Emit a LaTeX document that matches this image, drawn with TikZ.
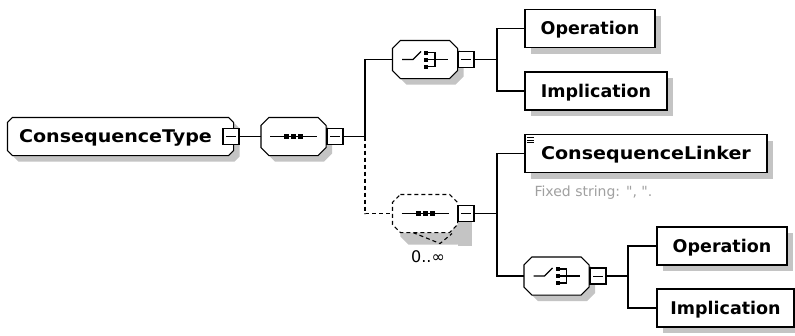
\documentclass[tikz,border=0pt]{standalone}
\usepackage{fontspec}
\usetikzlibrary{shadows}
\newfontfamily\boxfont{DejaVu Sans}
\newfontfamily\boxfontw[FakeStretch=1.09]{DejaVu Sans}
\definecolor{shadowgray}{HTML}{C4C4C4}
\definecolor{fixgray}{HTML}{A0A0A0}
% octagon round a named node: name, chamfer, x shift, y shift (down)
\newcommand{\octpath}[4]{([xshift=#2+#3,yshift=-#4]#1.north west) -- ([xshift=-#2+#3,yshift=-#4]#1.north east) -- ([xshift=#3,yshift=-#2-#4]#1.north east) -- ([xshift=#3,yshift=#2-#4]#1.south east) -- ([xshift=-#2+#3,yshift=-#4]#1.south east) -- ([xshift=#2+#3,yshift=-#4]#1.south west) -- ([xshift=#3,yshift=#2-#4]#1.south west) -- ([xshift=#3,yshift=-#2-#4]#1.north west) -- cycle}
\tikzset{
  every path/.style={line width=1.1pt},
  shad/.style={drop shadow={shadow xshift=6pt, shadow yshift=-6pt, fill=shadowgray, opacity=1}},
  namefont/.style={font=\boxfont\bfseries\fontsize{17.5}{20}\selectfont},
  widefont/.style={font=\boxfontw\bfseries\fontsize{17.5}{20}\selectfont},
  elem/.style={draw, fill=white, rectangle, shad, inner sep=0pt, minimum height=38pt,
    text height=12.8pt, text depth=0pt, namefont},
  frame/.style={rectangle, inner sep=0pt},
  comp/.style={frame, minimum width=64pt, minimum height=37pt},
  minusbox/.style={draw, fill=white, rectangle, inner sep=0pt, minimum size=16pt,
    path picture={\draw[line width=1pt] ([xshift=-5pt]path picture bounding box.center) -- ([xshift=5pt]path picture bounding box.center);}},
  dashdash/.style={dash pattern=on 4pt off 3pt},
  seqsym/.pic={
    \draw (-23.5,0) -- (23.5,0);
    \foreach \dx in {-7,0,7} \fill (\dx-2.5,-2.5) rectangle (\dx+2.5,2.5);
  },
  choicesym/.pic={
    \draw (-23,0) -- (-12,0) -- (-4,-8);
    \foreach \dy in {-7,0,7} \fill (-1,\dy-2) rectangle (3,\dy+2);
    \draw (3,-7) -- (10,-7) -- (10,7) -- (3,7);
    \draw (3,0) -- (23,0);
  }
}
\begin{document}
\begin{tikzpicture}[x=1pt,y=-1pt]
\path[fill=white,use as bounding box] (0,0) rectangle (795,335);

% root element
\node[frame, minimum width=225pt, minimum height=37pt] (ct) at (120.5,136.5) {};
\fill[shadowgray] \octpath{ct}{5pt}{6pt}{6pt};
\draw[fill=white] \octpath{ct}{5pt}{0pt}{0pt};
\node[widefont, inner sep=0pt, text height=12.8pt, text depth=0pt] (ctl) at ([xshift=-5pt]ct.center) {ConsequenceType};
\node[minusbox] (ctm) at (231,136.5) {};

% first sequence
\node[comp] (s1) at (293.5,136.5) {};
\fill[shadowgray] \octpath{s1}{8pt}{6pt}{6pt};
\draw[fill=white] \octpath{s1}{8pt}{0pt}{0pt};
\pic at (s1.center) {seqsym};
\node[minusbox] (s1m) at (335,136.5) {};
\coordinate (j1) at (365,136.5);

% first choice
\node[comp] (c1) at (425,59.5) {};
\fill[shadowgray] \octpath{c1}{8pt}{6pt}{6pt};
\draw[fill=white] \octpath{c1}{8pt}{0pt}{0pt};
\pic at (c1.center) {choicesym};
\node[minusbox] (c1m) at (466,59.5) {};
\coordinate (j2) at (497,59.5);
\node[elem, minimum width=130pt] (op1) at (590,28.5) {Operation};
\node[elem, minimum width=142pt] (im1) at (596,91) {Implication};

% repeated optional sequence
\node[comp] (s2) at (425,213.5) {};
\fill[shadowgray] \octpath{s2}{8pt}{8pt}{12pt};
\fill[shadowgray] (458,222) rectangle (472,246);
\draw[dashdash] ([xshift=-12pt]s2.south) -- ++(27,11) -- ++(12,-10);
\draw[dashdash, fill=white] \octpath{s2}{8pt}{0pt}{0pt};
\pic at (s2.center) {seqsym};
\node[minusbox] (s2m) at (466,213.5) {};
\coordinate (j3) at (497,213.5);
\node[font=\boxfont\fontsize{16}{18}\selectfont, inner sep=0pt] (occ) at (428,257) {0..∞};

\node[elem, minimum width=242pt, widefont] (cl) at (646,153.5) {ConsequenceLinker};
\foreach \d in {3.5,6,8.5}
  \draw[line width=0.8pt] ([xshift=3pt,yshift=-\d pt]cl.north west) -- ++(7,0);
\node[anchor=west, inner sep=0pt, text=fixgray, font=\boxfont\fontsize{14}{16}\selectfont] (fx) at (534,193) {Fixed string: ", ".};

% second choice
\node[comp] (c2) at (556.5,276) {};
\fill[shadowgray] \octpath{c2}{8pt}{6pt}{6pt};
\draw[fill=white] \octpath{c2}{8pt}{0pt}{0pt};
\pic at (c2.center) {choicesym};
\node[minusbox] (c2m) at (598,276) {};
\coordinate (j4) at (628,276);
\node[elem, minimum width=130pt] (op2) at (722,246) {Operation};
\node[elem, minimum width=137pt] (im2) at (725.5,308) {Implication};

% connectors
\draw (ctm.east) -- (s1.west);
\draw (s1m.east) -- (j1);
\draw (j1) |- (c1.west);
\draw[dashdash] (j1) |- (s2.west);
\draw (c1m.east) -- (j2);
\draw (j2) |- (op1.west);
\draw (j2) |- (im1.west);
\draw (s2m.east) -- (j3);
\draw (j3) |- (cl.west);
\draw (j3) |- (c2.west);
\draw (c2m.east) -- (j4);
\draw (j4) |- (op2.west);
\draw (j4) |- (im2.west);
\end{tikzpicture}
\end{document}
